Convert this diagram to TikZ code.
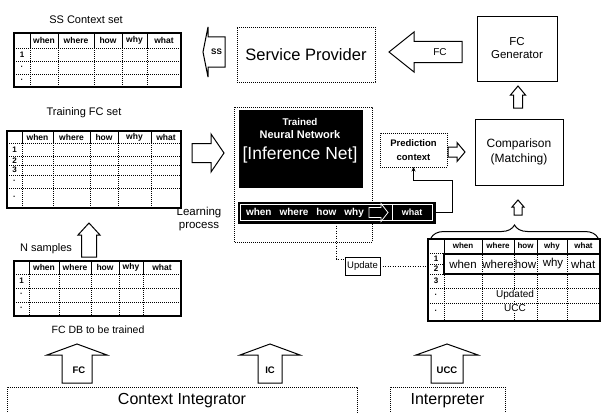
\documentclass[tikz,border=0pt]{standalone}
\usepackage{fontspec}
\setmainfont{Liberation Sans}
\usetikzlibrary{decorations.pathreplacing,arrows.meta}
\newcommand\fsz[2]{\fontsize{#1}{#2}\selectfont}
% up block arrow: cx, tipy, headbasey, bottomy, headhalf, bodyhalf
\newcommand\blkup[6]{\draw[blockarr] (#1,#2) -- (#1+#5,#3) -- (#1+#6,#3) -- (#1+#6,#4) -- (#1-#6,#4) -- (#1-#6,#3) -- (#1-#5,#3) -- cycle;}
% horizontal block arrow: tipx, cy, headbasex, endx, headhalf, bodyhalf
\newcommand\blkh[6]{\draw[blockarr] (#1,#2) -- (#3,#2-#5) -- (#3,#2-#6) -- (#4,#2-#6) -- (#4,#2+#6) -- (#3,#2+#6) -- (#3,#2+#5) -- cycle;}
\begin{document}
\begin{tikzpicture}[x=1pt,y=-1pt,
  every node/.style={inner sep=0pt,outer sep=0pt},
  box/.style={draw,line width=0.9pt},
  dotbox/.style={draw,line width=0.8pt,dash pattern=on 0.9pt off 1.1pt},
  tabbox/.style={draw,line width=1.3pt,anchor=north west},
  tabinner/.style={line width=0.45pt,dash pattern=on 1pt off 1pt},
  hsep/.style={line width=0.5pt},
  hdr/.style={font=\bfseries\fsz{8.5}{10}},
  hdrs/.style={font=\bfseries\fsz{8}{10}},
  rowl/.style={font=\bfseries\fsz{8}{10}},
  ttl/.style={font=\fsz{11}{13}},
  blockarr/.style={draw,line width=1pt,fill=white,line join=miter},
  albl/.style={font=\bfseries\fsz{9.5}{11}},
  conn/.style={line width=0.8pt,-{Stealth[length=4.5pt,width=4pt]}},
  dotline/.style={line width=0.9pt,dash pattern=on 1pt off 1.5pt},
  wtxt/.style={text=white}
]
\useasboundingbox[fill=white] (0,0) rectangle (601,412);

% ---------- titles ----------
\node[ttl] (t-ss) at (86,20) {SS Context set};
\node[ttl] (t-tr) at (84,113) {Training FC set};
\node[ttl] (t-ns) at (46,249) {N samples};
\node[font=\fsz{10.5}{12}] (t-db) at (98,330) {FC DB to be trained};
\node[font=\fsz{11.5}{13},align=center] (t-lp) at (199,219) {Learning\\process};

% ---------- SS context table ----------
\node[tabbox,minimum width=167,minimum height=54] (sst) at (14,33) {};
\foreach \x in {30,58,94,122,147} {\draw[hsep] (\x,33) -- (\x,48); \draw[tabinner] (\x,48) -- (\x,87);}
\foreach \y in {48,61,74} \draw[tabinner] (14,\y) -- (181,\y);
\foreach \lab/\x [count=\i] in {when/44,where/76,how/108,why/134.5,what/164} \node[hdr] (ss-h\i) at (\x,40.5) {\lab};
\foreach \lab/\y [count=\i] in {1/54.5,·/67.5,·/80.5} \node[rowl] (ss-r\i) at (22,\y) {\lab};

% ---------- training table ----------
\node[tabbox,minimum width=174,minimum height=77] (trt) at (7,131) {};
\foreach \x in {22,53,90,118,151} {\draw[hsep] (\x,131) -- (\x,143); \draw[tabinner] (\x,143) -- (\x,208);}
\foreach \y in {143,156,165,175,188} \draw[tabinner] (7,\y) -- (181,\y);
\foreach \lab/\x [count=\i] in {when/37.5,where/71.5,how/104,why/134.5,what/166} \node[hdr] (tr-h\i) at (\x,137) {\lab};
\foreach \lab/\y [count=\i] in {1/149.5,2/160.5,3/170,·/181.5,·/198} \node[rowl] (tr-r\i) at (14.5,\y) {\lab};

% ---------- N samples table ----------
\node[tabbox,minimum width=167,minimum height=55] (nst) at (14,261) {};
\foreach \x in {29,59,91,119,143} {\draw[hsep] (\x,261) -- (\x,274); \draw[tabinner] (\x,274) -- (\x,316);}
\foreach \y in {274,288,302} \draw[tabinner] (14,\y) -- (181,\y);
\foreach \lab/\x [count=\i] in {when/44,where/75,how/105,why/131,what/162} \node[hdr] (ns-h\i) at (\x,267.5) {\lab};
\foreach \lab/\y [count=\i] in {1/281,·/295,·/309} \node[rowl] (ns-r\i) at (21.5,\y) {\lab};

% ---------- arrows left column ----------
\blkup{89}{223}{235}{257}{11}{7.5}
\blkh{224}{153}{211}{192}{19}{9.5}

% ---------- service provider row ----------
\blkh{203}{52}{208}{225}{25}{15}
\node[albl,font=\bfseries\fsz{8}{10}] (a-ss) at (216.5,52) {SS};
\node[dotbox,minimum width=138,minimum height=55,font=\fsz{16.5}{18}] (sp) at (306,54.5) {Service Provider};
\blkh{389}{52}{414}{462}{20}{10.5}
\node[font=\fsz{10}{12}] (a-fc1) at (440,52) {FC};
\node[box,minimum width=80,minimum height=65,align=center,font=\fsz{11.5}{13}] (fcg) at (517,48.5) {FC\\Generator};
\blkup{518}{86}{95}{108}{7.5}{4.5}
\node[box,minimum width=88,minimum height=66,align=center,font=\fsz{12}{15}] (cmp) at (519,152) {Comparison\\(Matching)};
\blkup{518}{200}{207}{215}{6}{4}

% ---------- inference net ----------
\draw[dotbox] (234,107) rectangle (372,242);
\node[fill=black,minimum width=124,minimum height=78] (nn) at (301,149) {};
\node[wtxt,font=\bfseries\fsz{9.8}{11}] (nn-t1) at (300,122) {Trained};
\node[wtxt,font=\bfseries\fsz{11}{12}] (nn-t2) at (300,135) {Neural Network};
\node[wtxt,font=\fsz{17.5}{19}] (nn-t3) at (300,155) {[Inference Net]};
\node[fill=black,draw=black,line width=0.8pt,minimum width=197,minimum height=21] (bar) at (336.5,212.5) {};
\draw[white,line width=0.8pt] (240.5,204.5) rectangle (432.5,220.5);
\node[wtxt,font=\bfseries\fsz{10}{12},anchor=west] (bar-t) at (246,212.5) {when\hspace{8pt}where\hspace{8pt}how\hspace{8pt}why};
\draw[white,line width=0.8pt,fill=black] (388,212.5) -- (381,203.5) -- (381,207.5) -- (369,207.5) -- (369,217.5) -- (381,217.5) -- (381,221.5) -- cycle;
\draw[white,line width=0.8pt] (392,204.5) -- (392,220.5);
\node[wtxt,font=\bfseries\fsz{9}{11}] (bar-w) at (412,212.5) {what};

\node[dotbox,minimum width=67,minimum height=34,align=center,font=\bfseries\fsz{9.5}{14}] (pred) at (413.5,150) {Prediction\\context};
\blkh{465}{152}{457}{448}{9.5}{5}
\draw[conn] (bar.east) -| (452,180) -| (pred.south);

% ---------- update ----------
\node[box,minimum width=35,minimum height=18,font=\fsz{9.5}{11}] (upd) at (362.5,266) {Update};
\draw[dotline] (bar.south) |- ([yshift=-2pt]upd.north west);

% ---------- updated UCC table ----------
\node[tabbox,minimum width=172,minimum height=82] (ucc) at (428,239) {};
\foreach \x in {444,482,514,537,567} {\draw[hsep] (\x,239) -- (\x,253); \draw[tabinner] (\x,253) -- (\x,321);}
\foreach \y in {253,274,288,303} \draw[tabinner] (428,\y) -- (600,\y);
\draw[tabinner] (428,264) -- (444,264);
\draw[line width=1.3pt] (444,254) rectangle (600,274);
\foreach \lab/\x [count=\i] in {when/463,where/498,how/525.5,why/552,what/583.5} \node[hdrs] (uc-h\i) at (\x,246) {\lab};
\foreach \lab/\x [count=\i] in {when/463,where/498,how/525.5,why/553} \node[font=\fsz{11.5}{13}] (uc-b\i) at (\x,264) {\lab};
\node[font=\fsz{11.5}{13},anchor=west] (uc-b5) at (571,264) {what};
\foreach \lab/\y [count=\i] in {1/259,2/269,3/281,·/295.5,·/312} \node[rowl] (uc-r\i) at (436,\y) {\lab};
\node[fill=white,inner sep=0.6pt,font=\fsz{10}{12}] (uc-u1) at (515,295) {Updated};
\node[fill=white,inner sep=0.6pt,font=\fsz{10}{12}] (uc-u2) at (515,308) {UCC};
\draw[dotline] (upd.east) -- (upd.east -| ucc.west);
\draw[decorate,decoration={brace,amplitude=13pt},line width=1pt] (431,238) -- (598,238);

% ---------- bottom ----------
\blkup{77}{344}{355}{383}{30}{15}
\node[albl] (a-fc2) at (79,370) {FC};
\blkup{270}{344}{355}{383}{30}{12}
\node[albl] (a-ic) at (270,370) {IC};
\blkup{447}{344}{355}{383}{31}{16}
\node[albl] (a-ucc) at (447,370) {UCC};
\node[dotbox,anchor=north west,minimum width=350,minimum height=28,font=\fsz{16}{18}] (ci) at (7,387) {Context Integrator};
\node[dotbox,anchor=north west,minimum width=115,minimum height=28,font=\fsz{16}{18}] (interp) at (390,387) {Interpreter};
\end{tikzpicture}
\end{document}
